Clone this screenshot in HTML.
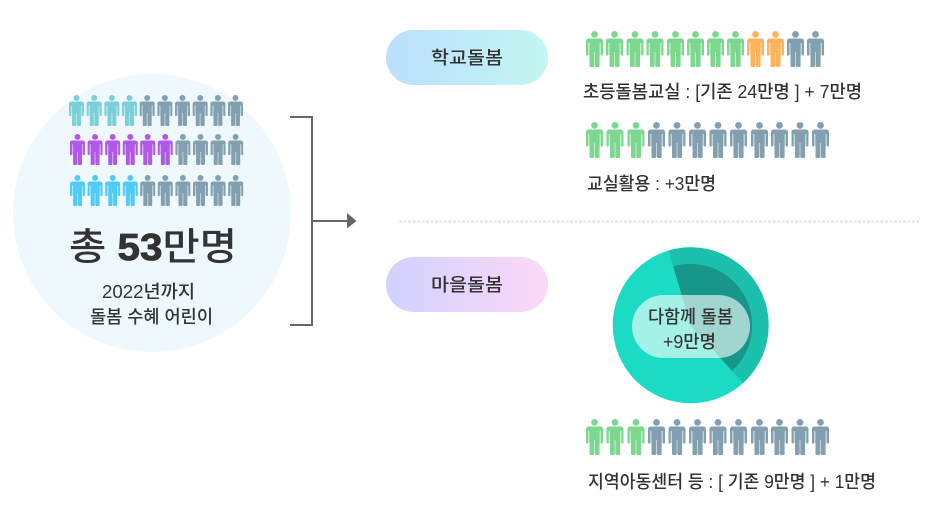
<!DOCTYPE html>
<html><head><meta charset="utf-8"><style>
html,body{margin:0;padding:0;background:#fff}
svg{display:block}
text{font-family:"Liberation Sans","Noto Sans CJK KR",sans-serif;fill:#333;font-weight:500}
</style></head><body>
<svg width="938" height="523" viewBox="0 0 938 523" xmlns="http://www.w3.org/2000/svg">
<defs>
<g id="p"><circle cx="8.5" cy="3.4" r="3.4"/><path d="M2.5 7.5H14.5A2.5 2.5 0 0 1 17 10V23.5A1.1 1.1 0 0 1 14.8 23.5V12H13.6V35Q13.6 36 12.6 36H10Q9 36 9 35V21H8V35Q8 36 7 36H4.5Q3.5 36 3.5 35V12H2.2V23.5A1.1 1.1 0 0 1 0 23.5V10A2.5 2.5 0 0 1 2.5 7.5Z"/><path d="M2.2 12H3.5V24H2.2ZM13.6 12H14.8V24H13.6ZM8 21H9V35H8Z" opacity=".45"/></g>
<g id="l"><use href="#p" transform="scale(.88 .86)"/></g>
<linearGradient id="g1" x1="0" y1="0" x2="1" y2="0"><stop offset="0" stop-color="#bcdfff"/><stop offset="1" stop-color="#c3f6f1"/></linearGradient>
<linearGradient id="g2" x1="0" y1="0" x2="1" y2="0"><stop offset="0" stop-color="#d0d2ff"/><stop offset="1" stop-color="#fdd8f7"/></linearGradient>
</defs>
<circle cx="152" cy="213" r="139" fill="#eff8fd"/>
<g fill="#7bcfd6"><use href="#l" x="69" y="95"/><use href="#l" x="86.7" y="95"/><use href="#l" x="104.4" y="95"/><use href="#l" x="122" y="95"/></g>
<g fill="#83a0b0"><use href="#l" x="139.7" y="95"/><use href="#l" x="157.4" y="95"/><use href="#l" x="175" y="95"/><use href="#l" x="192.7" y="95"/><use href="#l" x="210.4" y="95"/><use href="#l" x="228" y="95"/></g>
<g fill="#b158e6"><use href="#l" x="70" y="134"/><use href="#l" x="87.6" y="134"/><use href="#l" x="105.2" y="134"/><use href="#l" x="122.8" y="134"/><use href="#l" x="140.2" y="134"/><use href="#l" x="157.8" y="134"/></g>
<g fill="#83a0b0"><use href="#l" x="175.4" y="134"/><use href="#l" x="193" y="134"/><use href="#l" x="210.6" y="134"/><use href="#l" x="228.2" y="134"/></g>
<g fill="#4fcbf7"><use href="#l" x="70" y="175"/><use href="#l" x="87.6" y="175"/><use href="#l" x="105.2" y="175"/><use href="#l" x="122.8" y="175"/></g>
<g fill="#83a0b0"><use href="#l" x="140.2" y="175"/><use href="#l" x="157.8" y="175"/><use href="#l" x="175.4" y="175"/><use href="#l" x="193" y="175"/><use href="#l" x="210.6" y="175"/><use href="#l" x="228.2" y="175"/></g>
<text x="69" y="260" font-size="38" textLength="168" lengthAdjust="spacingAndGlyphs">총 <tspan font-weight="700" stroke="#333" stroke-width=".8">53</tspan>만명</text>
<text x="102" y="298" font-size="18" textLength="93" lengthAdjust="spacingAndGlyphs">2022년까지</text>
<text x="90" y="323" font-size="18" textLength="123" lengthAdjust="spacingAndGlyphs">돌봄 수혜 어린이</text>
<path d="M290 117H312V325H290" fill="none" stroke="#666" stroke-width="2"/>
<path d="M312 221H348" stroke="#666" stroke-width="2" fill="none"/>
<path d="M347 213L356.5 221 347 228.5Z" fill="#666"/>
<path d="M399 221.5H919" stroke="#e2e2e2" stroke-width="2" stroke-dasharray="3 1.5" fill="none"/>
<rect x="386" y="30" width="162" height="55" rx="27.5" fill="url(#g1)"/>
<text x="431" y="64" font-size="18" textLength="72" lengthAdjust="spacingAndGlyphs">학교돌봄</text>
<rect x="386" y="257" width="162" height="55" rx="27.5" fill="url(#g2)"/>
<text x="431" y="291" font-size="18" textLength="72" lengthAdjust="spacingAndGlyphs">마을돌봄</text>
<g fill="#7dd88f"><use href="#p" x="586" y="31"/><use href="#p" x="606" y="31"/><use href="#p" x="626.5" y="31"/><use href="#p" x="646.5" y="31"/><use href="#p" x="667" y="31"/><use href="#p" x="687" y="31"/><use href="#p" x="707" y="31"/><use href="#p" x="727" y="31"/></g>
<g fill="#ffb35a"><use href="#p" x="747" y="31"/><use href="#p" x="767" y="31"/></g>
<g fill="#83a0b0"><use href="#p" x="787" y="31"/><use href="#p" x="807" y="31"/></g>
<text x="583" y="98" font-size="18" textLength="279" lengthAdjust="spacingAndGlyphs">초등돌봄교실 : [기존 24만명 ] + 7만명</text>
<g fill="#7dd88f"><use href="#p" x="586" y="122"/><use href="#p" x="606.5" y="122"/><use href="#p" x="627.5" y="122"/></g>
<g fill="#83a0b0"><use href="#p" x="648" y="122"/><use href="#p" x="668.5" y="122"/><use href="#p" x="689" y="122"/><use href="#p" x="709.5" y="122"/><use href="#p" x="730" y="122"/><use href="#p" x="751" y="122"/><use href="#p" x="771" y="122"/><use href="#p" x="791.5" y="122"/><use href="#p" x="812" y="122"/></g>
<text x="587" y="190" font-size="18" textLength="129" lengthAdjust="spacingAndGlyphs">교실활용 : +3만명</text>
<circle cx="690.7" cy="325.3" r="78" fill="#1cdbc5"/>
<path d="M690.7 325.3L668.5 250.5A78 78 0 0 1 743 383.1Z" fill="#1dc0ac"/>
<path d="M690.7 325.3L673.2 266.4A61.5 61.5 0 0 1 732 370.9Z" fill="#16978a"/>
<rect x="632" y="295" width="118" height="63" rx="31.5" fill="#fff" fill-opacity=".6"/>
<text x="648" y="323" font-size="18" textLength="85" lengthAdjust="spacingAndGlyphs">다함께 돌봄</text>
<text x="663" y="348" font-size="18" textLength="53" lengthAdjust="spacingAndGlyphs">+9만명</text>
<g fill="#7dd88f"><use href="#p" x="586" y="419"/><use href="#p" x="606.5" y="419"/><use href="#p" x="627.5" y="419"/></g>
<g fill="#83a0b0"><use href="#p" x="648" y="419"/><use href="#p" x="668.5" y="419"/><use href="#p" x="689" y="419"/><use href="#p" x="709.5" y="419"/><use href="#p" x="730" y="419"/><use href="#p" x="751" y="419"/><use href="#p" x="771" y="419"/><use href="#p" x="791.5" y="419"/><use href="#p" x="812" y="419"/></g>
<text x="588" y="488" font-size="18" textLength="288" lengthAdjust="spacingAndGlyphs">지역아동센터 등 : [ 기존 9만명 ] + 1만명</text>
</svg>
</body></html>
